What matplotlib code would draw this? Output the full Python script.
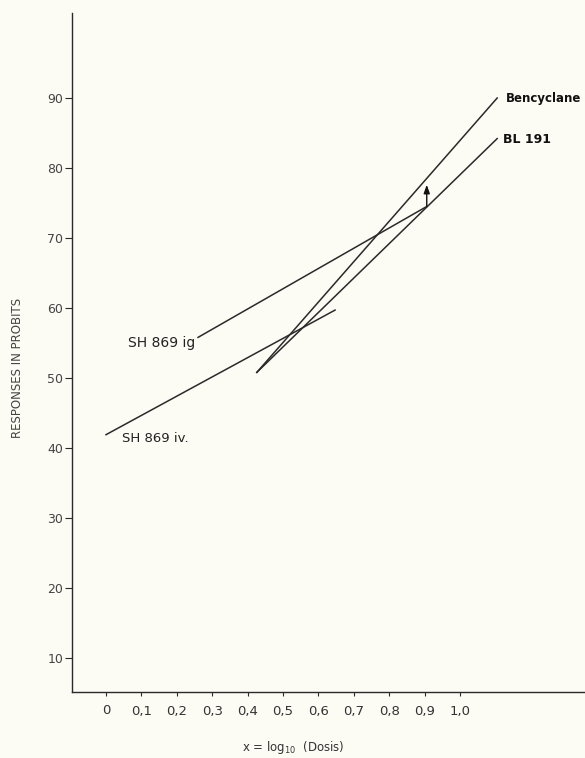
import matplotlib
matplotlib.use("Agg")
import matplotlib.pyplot as plt

# ---- data ----
bencyclane_x = [0.426, 1.105]
bencyclane_y = [50.8, 90.0]
bl191_x = [0.426, 1.105]
bl191_y = [50.8, 84.2]
sh_ig_x = [0.26, 0.906]
sh_ig_y = [55.8, 74.5]
sh_iv_x = [0.0, 0.647]
sh_iv_y = [41.9, 59.7]
arrow_x = 0.906
arrow_y = [74.5, 77.6]

x_ticks = [0.0, 0.1, 0.2, 0.3, 0.4, 0.5, 0.6, 0.7, 0.8, 0.9, 1.0]
x_ticklabels = ["0", "0,1", "0,2", "0,3", "0,4", "0,5", "0,6", "0,7", "0,8", "0,9", "1,0"]
y_ticks = [10, 20, 30, 40, 50, 60, 70, 80, 90]
y_ticklabels = ["10", "20", "30", "40", "50", "60", "70", "80", "90"]

bg = "#fcfcf5"
ink = "#2a2a2a"

fig = plt.figure(figsize=(5.85, 7.58), dpi=100, facecolor=bg)
ax = fig.add_axes([71.7 / 585, (758 - 692) / 758, 1 - 71.7 / 585, (692 - 13) / 758])
ax.set_facecolor(bg)

ax.set_xlim(-0.0969, 1.353)
ax.set_ylim(5.14, 102.14)

for s in ("top", "right"):
    ax.spines[s].set_visible(False)
for s in ("left", "bottom"):
    ax.spines[s].set_color(ink)
    ax.spines[s].set_linewidth(1.0)

ax.set_xticks(x_ticks)
ax.set_xticklabels(x_ticklabels)
ax.set_yticks(y_ticks)
ax.set_yticklabels(y_ticklabels)
ax.tick_params(axis="x", direction="out", length=3, width=0.8, color=ink,
               labelsize=9.5, labelcolor="#333333", pad=6)
ax.tick_params(axis="y", direction="out", length=5, width=0.8, color=ink,
               labelsize=9, labelcolor="#444444", pad=1)

lw = 1.1
ax.plot(bencyclane_x, bencyclane_y, color=ink, lw=lw)
ax.plot(bl191_x, bl191_y, color=ink, lw=lw)
ax.plot(sh_ig_x, sh_ig_y, color=ink, lw=lw)
ax.plot(sh_iv_x, sh_iv_y, color=ink, lw=lw)

ax.annotate("", xy=(arrow_x, arrow_y[1]), xytext=(arrow_x, arrow_y[0]),
            arrowprops=dict(arrowstyle="-|>,head_length=0.5,head_width=0.18",
                            color="#111111", lw=1.0, shrinkA=0, shrinkB=0))

ax.text(1.13, 89.9, "Bencyclane", fontsize=8.5, color="#111111",
        ha="left", va="center", fontweight="semibold")
ax.text(1.121, 84.0, "BL 191", fontsize=9, color="#111111",
        ha="left", va="center", fontweight="semibold")
ax.text(0.251, 55.0, "SH 869 ig", fontsize=10, color="#222222",
        ha="right", va="center")
ax.text(0.045, 41.4, "SH 869 iv.", fontsize=9.5, color="#222222",
        ha="left", va="center")

fig.text(18 / 585, 1 - 368 / 758, "RESPONSES IN PROBITS", rotation=90,
         fontsize=8.5, color="#444444", ha="center", va="center")
fig.text(293 / 585, 1 - 747 / 758, r"x = log$_{10}$  (Dosis)", fontsize=8.5,
         color="#333333", ha="center", va="center")

fig.savefig("out.png", dpi=100, facecolor=bg)
